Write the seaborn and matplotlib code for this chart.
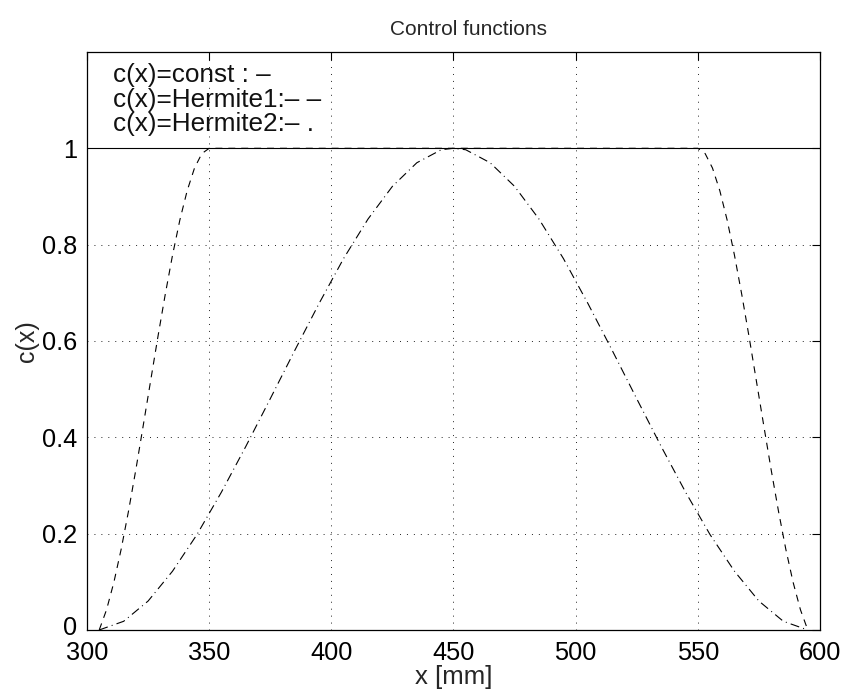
import matplotlib
matplotlib.use("Agg")
import matplotlib.pyplot as plt
import matplotlib.transforms as mtrans
import seaborn as sns
import pandas as pd

# ---- data ----
const_x = [300, 600]
const_y = [1.0, 1.0]

herm1_x = [305, 308, 311, 314, 317, 320, 323, 326, 329, 332, 335, 338, 341, 344, 347, 350,
           550, 553, 556, 559, 562, 565, 568, 571, 574, 577, 580, 583, 586, 589, 592, 595]
herm1_y = [0.0, 0.042, 0.099, 0.168, 0.247, 0.333, 0.424, 0.516, 0.608, 0.696, 0.778, 0.851, 0.912, 0.959, 0.989, 1.0,
           1.0, 0.989, 0.959, 0.912, 0.851, 0.778, 0.696, 0.608, 0.516, 0.424, 0.333, 0.247, 0.168, 0.099, 0.042, 0.0]

herm2_x = [305, 315, 325, 335, 345, 355, 365, 375, 385, 395, 405, 415, 425, 435, 445, 450,
           455, 465, 475, 485, 495, 505, 515, 525, 535, 545, 555, 565, 575, 585, 595]
herm2_y = [0.0, 0.018, 0.060, 0.122, 0.198, 0.286, 0.381, 0.480, 0.580, 0.678, 0.771, 0.853, 0.921, 0.970, 0.997, 1.0,
           0.997, 0.970, 0.921, 0.853, 0.771, 0.678, 0.580, 0.480, 0.381, 0.286, 0.198, 0.122, 0.060, 0.018, 0.0]

legend_lines = ["c(x)=const : \u2013", "c(x)=Hermite1:\u2013 \u2013", "c(x)=Hermite2:\u2013 ."]
x_ticks = [300, 350, 400, 450, 500, 550, 600]
y_ticks = [0, 0.2, 0.4, 0.6, 0.8, 1]
y_tick_labels = ["0", "0.2", "0.4", "0.6", "0.8", "1"]

sns.set_style("white")
plt.rcParams["font.family"] = ["Liberation Sans", "DejaVu Sans"]
plt.rcParams["lines.scale_dashes"] = False

fig = plt.figure(figsize=(8.43, 6.90), dpi=100)
ax = fig.add_axes([0.1032, 0.0870, 0.8695, 0.8377])

df_c = pd.DataFrame({"x": const_x, "y": const_y})
df_1 = pd.DataFrame({"x": herm1_x, "y": herm1_y})
df_2 = pd.DataFrame({"x": herm2_x, "y": herm2_y})

sns.lineplot(data=df_c, x="x", y="y", ax=ax, color="black", lw=0.8, sort=False)
l1 = sns.lineplot(data=df_1, x="x", y="y", ax=ax, color="black", lw=0.8, sort=False).lines[-1]
l1.set_linestyle((0, (5, 4.3)))
l2 = sns.lineplot(data=df_2, x="x", y="y", ax=ax, color="black", lw=0.8, sort=False).lines[-1]
l2.set_linestyle((0, (6.5, 3, 0.7, 3)))

ax.set_xlim(300, 600)
ax.set_ylim(0, 1.2)
ax.set_xticks(x_ticks)
ax.set_yticks(y_ticks)
ax.set_yticklabels(y_tick_labels)
ax.tick_params(direction="in", length=6, width=0.8, labelsize=18.3, top=True, right=True,
               colors="black", pad=7)
ax.tick_params(axis="x", pad=8)
ax.grid(True, color="black", linestyle=(0, (0.7, 4.3)), linewidth=0.6)
for s in ax.spines.values():
    s.set_visible(True)
    s.set_color("black")
    s.set_linewidth(0.9)

# lift the "0" y tick label a touch so it does not collide with "300"
zero_lbl = ax.yaxis.get_major_ticks()[0].label1
zero_lbl.set_transform(zero_lbl.get_transform() +
                       mtrans.ScaledTranslation(0, 3 / 72, fig.dpi_scale_trans))

ax.set_xlabel("x [mm]", fontsize=18.5, labelpad=0)
ax.set_ylabel("c(x)", fontsize=18, labelpad=2)
ax.set_title("Control functions", fontsize=15, pad=12, x=0.52)

for i, t in enumerate(legend_lines):
    ax.text(310.5, 1.152 - i * 0.051, t, fontsize=18.8, va="center", ha="left", color="#111111")

fig.savefig("out.png", dpi=100)
